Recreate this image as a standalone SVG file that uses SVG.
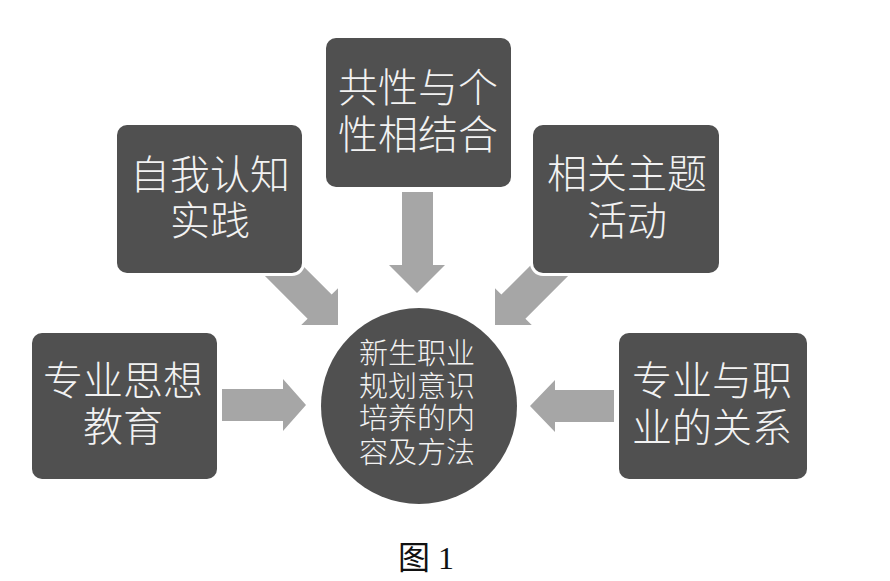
<svg xmlns="http://www.w3.org/2000/svg" width="890" height="581" viewBox="0 0 890 581">
<style>
.box{fill:#505050;stroke:#ffffff;stroke-width:6;paint-order:stroke}
.arr{fill:#a6a6a6}
.t{font-family:"Noto Sans CJK SC","Noto Sans",sans-serif;font-size:40px;font-weight:300;fill:#f2f2f2;text-anchor:middle}
.tc{font-family:"Noto Sans CJK SC","Noto Sans",sans-serif;font-size:29px;font-weight:300;fill:#f2f2f2;text-anchor:middle}
.cap{font-family:"Liberation Serif","Noto Sans CJK SC",serif;font-size:32px;fill:#111111;text-anchor:middle}
</style>
<rect width="890" height="581" fill="#ffffff"/>
<g id="connectors">
<polygon class="arr" points="222,389 283,389 283,379 306,405 283,431 283,421 222,421"/>
<polygon class="arr" points="614,390 555,390 555,380 530,406 555,432 555,422 614,422"/>
<polygon class="arr" points="402,192 433,192 433,265 445,265 417,293 389,265 402,265"/>
<polygon class="arr" transform="translate(338,325) rotate(45)" points="-110,-17 -26,-17 -26,-26 0,0 -26,26 -26,17 -110,17"/>
<polygon class="arr" transform="translate(495,325) scale(-1,1) rotate(45)" points="-110,-17 -26,-17 -26,-26 0,0 -26,26 -26,17 -110,17"/>
</g>
<g id="node-top">
<rect class="box" x="326" y="38" width="185" height="149" rx="10"/>
<text class="t" x="418" y="102">共性与个</text>
<text class="t" x="418" y="149">性相结合</text>
</g>
<g id="node-upper-left">
<rect class="box" x="117" y="125" width="185" height="148" rx="10"/>
<text class="t" x="210" y="189">自我认知</text>
<text class="t" x="210" y="235">实践</text>
</g>
<g id="node-upper-right">
<rect class="box" x="533" y="125" width="186" height="148" rx="10"/>
<text class="t" x="627" y="188">相关主题</text>
<text class="t" x="627" y="235">活动</text>
</g>
<g id="node-left">
<rect class="box" x="32" y="333" width="185" height="146" rx="10"/>
<text class="t" x="123" y="395">专业思想</text>
<text class="t" x="123" y="441">教育</text>
</g>
<g id="node-right">
<rect class="box" x="619" y="333" width="188" height="146" rx="10"/>
<text class="t" x="712" y="395">专业与职</text>
<text class="t" x="712" y="442">业的关系</text>
</g>
<g id="node-center">
<circle cx="419" cy="406" r="98" fill="#505050"/>
<text class="tc" x="417" y="364">新生职业</text>
<text class="tc" x="417" y="397">规划意识</text>
<text class="tc" x="417" y="429">培养的内</text>
<text class="tc" x="417" y="463">容及方法</text>
</g>
<text class="cap" x="426" y="569">图 1</text>
</svg>
